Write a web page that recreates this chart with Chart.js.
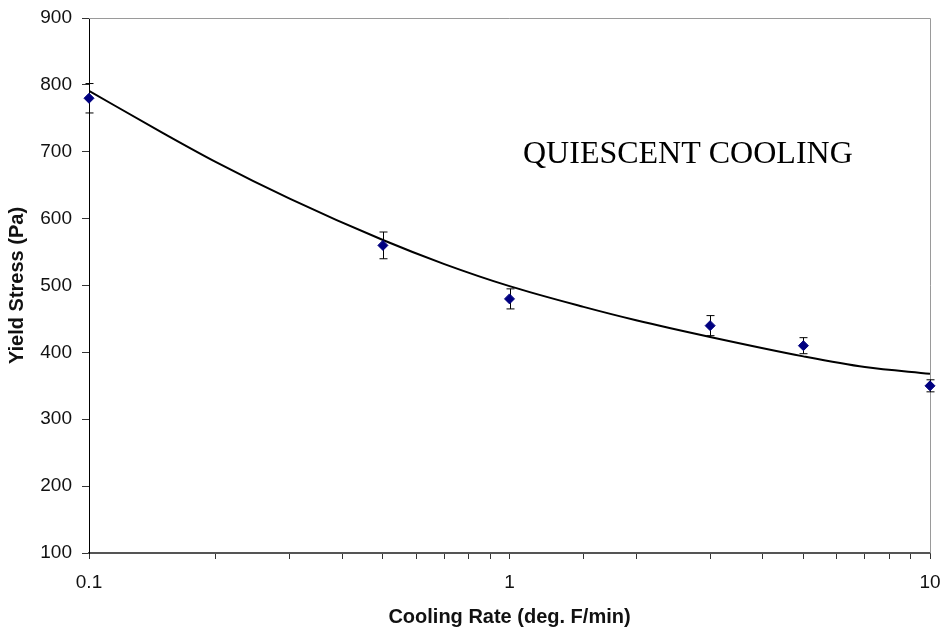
<!DOCTYPE html>
<html>
<head>
<meta charset="utf-8">
<script src="https://cdn.jsdelivr.net/npm/chart.js@4/dist/chart.umd.min.js"></script>
<style>
  body { margin: 0; background: #fff; }
  #stressChart { display: block; }
</style>
</head>
<body>
<canvas id="stressChart" width="944" height="629"></canvas>
<script>
// measured yield stress vs cooling rate
const coolingRates = [0.1, 0.5, 1, 3, 5, 10];
const yieldStress = [780, 560, 480, 440, 410, 350];
const stressError = [22, 20, 15, 15, 12, 9];

// fitted trend line
const fitRates = [0.1, 0.15, 0.2, 0.3, 0.5, 0.7, 1, 1.5, 2, 3, 5, 7, 10];
const fitStress = [791, 728, 685, 630, 568, 532, 499, 468, 448, 423, 394, 378, 368];

const yTicks = [100, 200, 300, 400, 500, 600, 700, 800, 900];
const chartLabel = 'QUIESCENT COOLING';

const tickFont = { family: 'Liberation Sans, Arial, sans-serif', size: 19 };
const titleFont = { family: 'Liberation Sans, Arial, sans-serif', size: 20, weight: 'bold' };

// error bars, box edges and the caption
const extras = {
    id: 'extras',
    beforeDatasetsDraw(chart) {
        const ctx = chart.ctx;
        const area = chart.chartArea;
        const xs = chart.scales.x;
        const ys = chart.scales.y;

        ctx.save();
        ctx.strokeStyle = '#9a9a9a';
        ctx.lineWidth = 1;
        ctx.beginPath();
        ctx.moveTo(area.left, area.top + 0.5);
        ctx.lineTo(area.right + 0.5, area.top + 0.5);
        ctx.lineTo(area.right + 0.5, area.bottom);
        ctx.stroke();

        ctx.strokeStyle = '#000';
        ctx.lineWidth = 1;
        coolingRates.forEach((rate, i) => {
            const px = Math.round(xs.getPixelForValue(rate)) + 0.5;
            const top = ys.getPixelForValue(yieldStress[i] + stressError[i]);
            const bottom = ys.getPixelForValue(yieldStress[i] - stressError[i]);
            ctx.beginPath();
            ctx.moveTo(px, top);
            ctx.lineTo(px, bottom);
            ctx.moveTo(px - 4, top);
            ctx.lineTo(px + 4, top);
            ctx.moveTo(px - 4, bottom);
            ctx.lineTo(px + 4, bottom);
            ctx.stroke();
        });

        ctx.fillStyle = '#000';
        ctx.font = '32px "Liberation Serif", "Times New Roman", serif';
        ctx.textBaseline = 'alphabetic';
        ctx.textAlign = 'left';
        ctx.fillText(chartLabel, area.left + 434, area.top + 145);
        ctx.restore();
    }
};

const ctx = document.getElementById('stressChart').getContext('2d');
new Chart(ctx, {
    type: 'scatter',
    data: {
        datasets: [
            {
                label: 'Yield stress',
                data: coolingRates.map((x, i) => ({ x: x, y: yieldStress[i] })),
                pointStyle: 'rectRot',
                pointRadius: 5,
                backgroundColor: '#000080',
                borderColor: '#000080',
                borderWidth: 1,
                clip: false,
                order: 0
            },
            {
                label: 'Fit',
                data: fitRates.map((x, i) => ({ x: x, y: fitStress[i] })),
                showLine: true,
                pointRadius: 0,
                borderColor: '#000',
                borderWidth: 2,
                cubicInterpolationMode: 'monotone',
                order: 1
            }
        ]
    },
    options: {
        responsive: false,
        animation: false,
        layout: {
            padding: { top: 18, right: 14, bottom: 0, left: 0 }
        },
        plugins: {
            legend: { display: false },
            tooltip: { enabled: false }
        },
        scales: {
            x: {
                type: 'logarithmic',
                min: 0.1,
                max: 10,
                border: { display: true, color: '#555', width: 2 },
                grid: { drawOnChartArea: false, drawTicks: true, tickLength: 6, color: '#333' },
                ticks: {
                    autoSkip: false,
                    maxRotation: 0,
                    padding: 12,
                    color: '#111',
                    font: tickFont,
                    callback: function(value) {
                        const lg = Math.log10(value);
                        return Math.abs(lg - Math.round(lg)) < 1e-6 ? String(value) : '';
                    }
                },
                title: {
                    display: true,
                    text: 'Cooling Rate (deg. F/min)',
                    color: '#111',
                    font: titleFont,
                    padding: { top: 0, bottom: 0 }
                },
                afterFit: function(scale) {
                    scale.height = 76;
                    scale.paddingLeft = 0;
                    scale.paddingRight = 0;
                }
            },
            y: {
                min: 100,
                max: 900,
                afterBuildTicks: function(scale) {
                    scale.ticks = yTicks.map(v => ({ value: v }));
                },
                border: { display: true, color: '#000', width: 1 },
                grid: { drawOnChartArea: false, drawTicks: true, tickLength: 7, color: '#333' },
                ticks: {
                    padding: 10,
                    color: '#111',
                    font: tickFont
                },
                title: {
                    display: true,
                    text: 'Yield Stress (Pa)',
                    color: '#111',
                    font: titleFont,
                    padding: { top: 5, bottom: 0 }
                },
                afterFit: function(scale) {
                    scale.width = 89;
                    scale.paddingTop = 0;
                    scale.paddingBottom = 0;
                }
            }
        }
    },
    plugins: [extras]
});
</script>
</body>
</html>
